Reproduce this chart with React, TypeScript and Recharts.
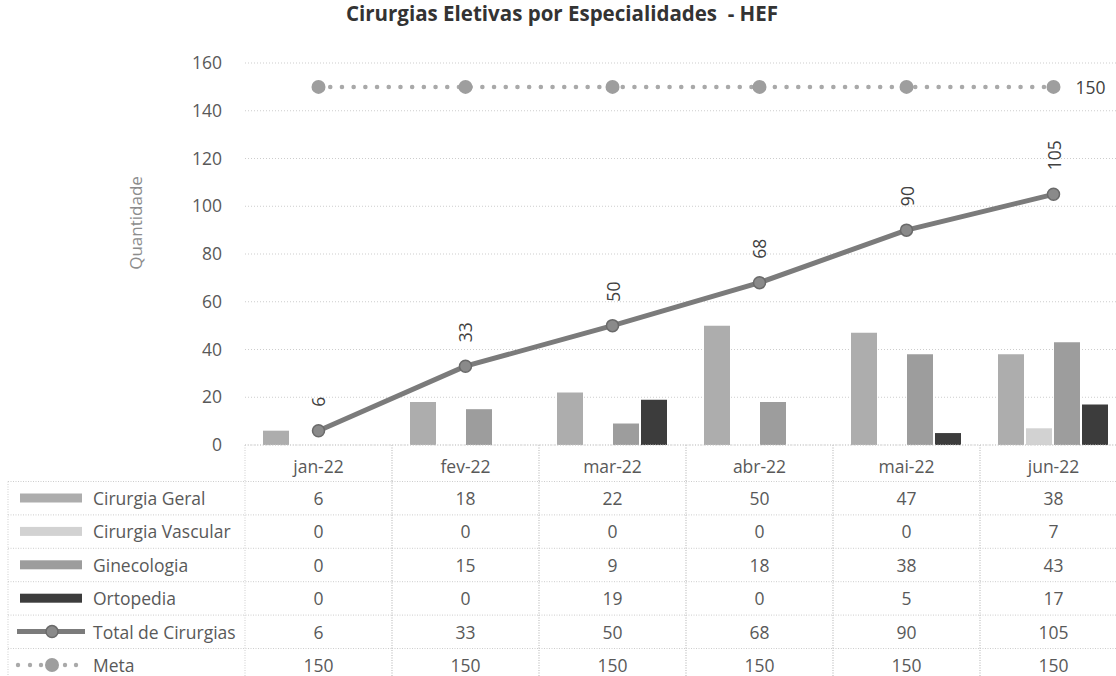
import {
  Bar,
  Line,
  XAxis,
  YAxis,
  CartesianGrid,
  LabelList,
  ComposedChart,
} from "recharts";

const months = ["jan-22", "fev-22", "mar-22", "abr-22", "mai-22", "jun-22"];
const cirurgiaGeral = [6, 18, 22, 50, 47, 38];
const cirurgiaVascular = [0, 0, 0, 0, 0, 7];
const ginecologia = [0, 15, 9, 18, 38, 43];
const ortopedia = [0, 0, 19, 0, 5, 17];
const totalCirurgias = [6, 33, 50, 68, 90, 105];
const meta = [150, 150, 150, 150, 150, 150];
const yTicks = [0, 20, 40, 60, 80, 100, 120, 140, 160];

const FONT = "'Open Sans', sans-serif";
const TXT = "#595959";

const COLORS = {
  geral: "#adadad",
  vascular: "#d2d2d2",
  gineco: "#9d9d9d",
  orto: "#3c3c3c",
  total: "#7b7b7b",
  totalDot: "#8a8a8a",
  meta: "#a9a9a9",
  metaDot: "#9e9e9e",
  grid: "#cdcdcd",
};

const data = months.map((m, i) => ({
  month: m,
  geral: cirurgiaGeral[i],
  vascular: cirurgiaVascular[i],
  gineco: ginecologia[i],
  orto: ortopedia[i],
  total: totalCirurgias[i],
  meta: meta[i],
}));

const rows = [
  { name: "Cirurgia Geral", values: cirurgiaGeral, kind: "bar", color: COLORS.geral },
  { name: "Cirurgia Vascular", values: cirurgiaVascular, kind: "bar", color: COLORS.vascular },
  { name: "Ginecologia", values: ginecologia, kind: "bar", color: COLORS.gineco },
  { name: "Ortopedia", values: ortopedia, kind: "bar", color: COLORS.orto },
  { name: "Total de Cirurgias", values: totalCirurgias, kind: "line", color: COLORS.total },
  { name: "Meta", values: meta, kind: "meta", color: COLORS.meta },
];

// chart layout
const W = 1130;
const H = 700;
const PLOT_LEFT = 245;
const PLOT_RIGHT = 1127;
const X_AXIS_H = 255;
const BW = (PLOT_RIGHT - PLOT_LEFT) / months.length;
const ROW_H = 33.4;
const FIRST_ROW = 53; // from axis line to center of first row
const FIRST_LINE = 36.5;

function Swatch({ kind, color, cy }: { kind: string; color: string; cy: number }) {
  if (kind === "bar") return <rect x={20} y={cy - 4.5} width={62} height={9} fill={color} />;
  if (kind === "line")
    return (
      <g>
        <line x1={17} x2={85} y1={cy} y2={cy} stroke={color} strokeWidth={5} />
        <circle cx={52} cy={cy} r={6} fill={COLORS.totalDot} stroke="#6a6a6a" strokeWidth={1.5} />
      </g>
    );
  return (
    <g>
      {[18, 30, 41, 65, 76].map((dx) => (
        <circle key={dx} cx={dx} cy={cy} r={2.2} fill={color} />
      ))}
      <circle cx={52} cy={cy} r={7} fill={COLORS.metaDot} />
    </g>
  );
}

function TableTick(props: any) {
  const { x, y, index } = props;
  const left = x - BW / 2;
  const right = x + BW / 2;
  const dotted = { stroke: COLORS.grid, strokeDasharray: "1 1.5", strokeWidth: 1 };
  return (
    <g fontFamily={FONT} fontSize={17.5} fill={TXT}>
      <line x1={left} x2={left} y1={y} y2={y + 240} {...dotted} />
      <line x1={right} x2={right} y1={y} y2={y + 240} {...dotted} />
      {rows.map((r, i) => (
        <line
          key={"h" + i}
          x1={index === 0 ? 8 : left}
          x2={right}
          y1={y + FIRST_LINE + ROW_H * i}
          y2={y + FIRST_LINE + ROW_H * i}
          {...dotted}
        />
      ))}
      {index === 0 && <line x1={8} x2={8} y1={y + FIRST_LINE} y2={y + 240} {...dotted} />}
      <text x={x} y={y + 21} textAnchor="middle" dominantBaseline="central">
        {months[index]}
      </text>
      {rows.map((r, i) => (
        <text
          key={"v" + i}
          x={x}
          y={y + FIRST_ROW + ROW_H * i}
          textAnchor="middle"
          dominantBaseline="central"
        >
          {r.values[index]}
        </text>
      ))}
      {index === 0 &&
        rows.map((r, i) => (
          <g key={"l" + i}>
            <Swatch kind={r.kind} color={r.color} cy={y + FIRST_ROW + ROW_H * i} />
            <text x={93} y={y + FIRST_ROW + ROW_H * i} dominantBaseline="central">
              {r.name}
            </text>
          </g>
        ))}
    </g>
  );
}

const totalLabel = (p: any) => (
  <text
    x={p.x}
    y={p.y - 24}
    transform={`rotate(-90 ${p.x} ${p.y - 24})`}
    dominantBaseline="central"
    fontFamily={FONT}
    fontSize={17.5}
    fill="#404040"
  >
    {p.value}
  </text>
);

const metaLabel = (p: any) =>
  p.index === meta.length - 1 ? (
    <text
      x={p.x + 22}
      y={p.y}
      dominantBaseline="central"
      fontFamily={FONT}
      fontSize={17.5}
      fill="#404040"
    >
      {p.value}
    </text>
  ) : null;

export default function App() {
  return (
    <div
      style={{
        position: "fixed",
        left: 0,
        top: 0,
        width: 1116,
        height: 676,
        overflow: "hidden",
        background: "#fff",
      }}
    >
      <div
        style={{
          position: "absolute",
          left: 0,
          width: 1124,
          top: 0,
          lineHeight: "26px",
          textAlign: "center",
          fontFamily: FONT,
          fontWeight: 700,
          fontSize: 20.5,
          color: "#333333",
          whiteSpace: "pre",
        }}
      >
        {"Cirurgias Eletivas por Especialidades  - HEF"}
      </div>
      <ComposedChart
        width={W}
        height={H}
        data={data}
        margin={{ top: 63, right: W - PLOT_RIGHT, bottom: 0, left: 0 }}
        barCategoryGap={18}
        barGap={2}
        style={{ position: "absolute", left: 0, top: 0 }}
      >
        <CartesianGrid vertical={false} stroke={COLORS.grid} strokeDasharray="1 2" />
        <XAxis
          dataKey="month"
          height={X_AXIS_H}
          tickSize={0}
          tickMargin={0}
          axisLine={{ stroke: COLORS.grid, strokeDasharray: "1 1.5" }}
          tick={TableTick}
          interval={0}
        />
        <YAxis
          width={PLOT_LEFT}
          domain={[0, 160]}
          ticks={yTicks}
          axisLine={false}
          tickLine={false}
          tickSize={0}
          tickMargin={23}
          tick={{ fontFamily: FONT, fontSize: 17.5, fill: TXT }}
          label={{
            content: () => (
              <text
                x={135}
                y={223}
                transform="rotate(-90 135 223)"
                textAnchor="middle"
                dominantBaseline="central"
                fontFamily={FONT}
                fontSize={17}
                fill="#8c8c8c"
              >
                Quantidade
              </text>
            ),
          }}
        />
        <Bar dataKey="geral" fill={COLORS.geral} isAnimationActive={false} />
        <Bar dataKey="vascular" fill={COLORS.vascular} isAnimationActive={false} />
        <Bar dataKey="gineco" fill={COLORS.gineco} isAnimationActive={false} />
        <Bar dataKey="orto" fill={COLORS.orto} isAnimationActive={false} />
        <Line
          dataKey="total"
          stroke={COLORS.total}
          strokeWidth={5}
          dot={{ r: 6, fill: COLORS.totalDot, stroke: "#6a6a6a", strokeWidth: 1.5 }}
          isAnimationActive={false}
        >
          <LabelList dataKey="total" content={totalLabel} />
        </Line>
        <Line
          dataKey="meta"
          stroke={COLORS.meta}
          strokeWidth={4.5}
          strokeDasharray="0.1 11.6"
          strokeLinecap="round"
          dot={{ r: 7, fill: COLORS.metaDot, stroke: "none" }}
          isAnimationActive={false}
        >
          <LabelList dataKey="meta" content={metaLabel} />
        </Line>
      </ComposedChart>
    </div>
  );
}
